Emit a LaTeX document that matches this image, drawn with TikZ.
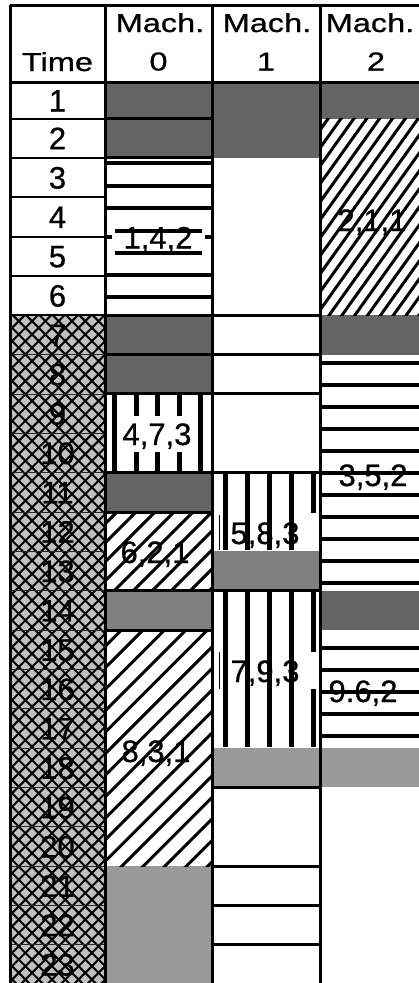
\documentclass[tikz,border=0pt]{standalone}
\usepackage{fontspec}
\usepackage{graphicx}
\setmainfont{Liberation Sans}
\newfontfamily\labfont[FakeBold=0.7]{Liberation Sans}
\definecolor{dgray}{HTML}{646464}
\definecolor{mgray}{HTML}{808080}
\definecolor{lgray}{HTML}{999999}
\definecolor{xgray}{HTML}{C0C0C0}
\newcommand\hsx[1]{\scalebox{1.25}[1]{#1}}
\begin{document}
\begin{tikzpicture}[x=1pt,y=-1pt,
  border/.style={line width=3pt, black},
  thinrule/.style={line width=2pt, black},
  hairrule/.style={line width=0.8pt, black!85},
  stripe/.style={line width=4pt, black},
  vbar/.style={line width=5pt, black},
  hatchline/.style={line width=3pt, black},
  lattice/.style={line width=2pt, black},
  rowlab/.style={font=\labfont\fontsize{31}{31}\selectfont, inner sep=0pt, text height=22pt, text depth=0pt},
  blocklab/.style={rowlab},
  hdr/.style={font=\labfont\fontsize{26}{26}\selectfont, inner sep=0pt, anchor=base},
]
\useasboundingbox (0,0) rectangle (419,983);
\begin{scope}
\clip (0,0) rectangle (419,983);
% grid coordinates
\coordinate (c0) at (10,0);
\coordinate (c1) at (105,0);
\coordinate (c2) at (212,0);
\coordinate (c3) at (320,0);
\coordinate (c4) at (440,0);
\coordinate (r0) at (0,5);
\coordinate (r1) at (0,82);
\foreach \k in {2,...,24} \coordinate (r\k) at (0,{118.5+(\k-2)*39.35});
% solid fills
\fill[dgray] (c1|-r1) rectangle (c2|-r3);
\fill[dgray] (c2|-r1) rectangle (c3|-r3);
\fill[dgray] (c3|-r1) rectangle (c4|-r2);
\fill[dgray] (c1|-r7) rectangle (c2|-r9);
\fill[dgray] (c3|-r7) rectangle (c4|-r8);
\fill[dgray] (c1|-r11) rectangle (c2|-r12);
\fill[dgray] (c3|-r14) rectangle (c4|-r15);
\fill[mgray] (c1|-r14) rectangle (c2|-r15);
\fill[mgray] (c2|-r13) rectangle (c3|-r14);
\fill[lgray] (c1|-r21) rectangle (c2|-r24);
\fill[lgray] (c2|-r18) rectangle (c3|-r19);
\fill[lgray] (c3|-r18) rectangle (c4|-r19);
% time column crosshatch
\begin{scope}
\clip (c0|-r7) rectangle (c1|-r24);
\fill[xgray] (c0|-r7) rectangle (c1|-r24);
\foreach \i in {0,...,64} {
  \draw[lattice] (0,{300+\i*13.3}) -- (120,{300+\i*13.3-120});
  \draw[lattice] (0,{196+\i*13.3}) -- (120,{196+\i*13.3+120});
}
\end{scope}
% horizontal stripes
\foreach \y in {163,186,208,275,297} \draw[stripe] (105,\y) -- (212,\y);
\foreach \y in {230.5,253} \draw[stripe] (115,\y) -- (202,\y);
\draw[stripe] (105,237) -- (112,237);
\draw[stripe] (205,237) -- (212,237);
\foreach \n in {0,...,10} \draw[stripe] (320,{363+22*\n}) -- (430,{363+22*\n});
\foreach \n in {0,...,4} \draw[stripe] (320,{648+22*\n}) -- (430,{648+22*\n});
% vertical stripes
\foreach \n in {0,...,4} \draw[vbar] ({114.5+21.5*\n},393.1) -- ({114.5+21.5*\n},471.7);
\foreach \n in {0,...,3} \draw[vbar] ({225.5+22.1*\n},471.7) -- ({225.5+22.1*\n},550.3);
\draw[vbar] (313.9,471.7) -- (313.9,513);
\foreach \n in {0,...,3} \draw[vbar] ({225.5+22.1*\n},589.6) -- ({225.5+22.1*\n},746.8);
\draw[vbar] (313.9,589.6) -- (313.9,652);
\draw[vbar] (313.9,689) -- (313.9,746.8);
\draw[line width=1pt] (219,515) -- (219,550.3);
\draw[line width=1pt] (219,652) -- (219,689);
% diagonal hatches
\begin{scope}
\clip (c3|-r2) rectangle (c4|-r7);
\foreach \c in {560,578,...,960} \draw[hatchline] (310,{\c-1.4*310}) -- (440,{\c-1.4*440});
\end{scope}
\begin{scope}
\clip (c1|-r12) rectangle (c2|-r14);
\foreach \c in {610,629,...,810} \draw[hatchline] (100,{\c-100}) -- (220,{\c-220});
\end{scope}
\begin{scope}
\clip (c1|-r15) rectangle (c2|-r21);
\foreach \c in {730,751.5,...,1090} \draw[hatchline] (100,{\c-100}) -- (220,{\c-220});
\end{scope}
% rules
\foreach \k in {2,...,7} \draw[thinrule] (c0|-r\k) -- (c1|-r\k);
\foreach \k in {8,...,23} \draw[hairrule] (c0|-r\k) -- (c1|-r\k);
\foreach \k in {2,3,7,8,9,11,12,14,15} \draw[border] (c1|-r\k) -- (c2|-r\k);
\foreach \k in {7,8,9,11,14,19,21,22,23} \draw[border] (c2|-r\k) -- (c3|-r\k);
\draw[border] (c0|-r0) -- (c4|-r0);
\draw[border] (c0|-r1) -- (c4|-r1);
\foreach \c in {c0,c1,c2,c3} \draw[border] (\c|-r0) -- (\c|-r24);
% header
\node[hdr] (hT) at (57.5,71) {\hsx{Time}};
\node[hdr] (hM0) at (160,32) {\hsx{Mach.}};
\node[hdr] (hN0) at (158.5,70.5) {\hsx{0}};
\node[hdr] (hM1) at (267,32) {\hsx{Mach.}};
\node[hdr] (hN1) at (266,70.5) {\hsx{1}};
\node[hdr] (hM2) at (370,32) {\hsx{Mach.}};
\node[hdr] (hN2) at (376,70.5) {\hsx{2}};
% row numbers
\node[rowlab] (t1) at (57.5,100.5) {1};
\foreach \k in {2,...,23} \node[rowlab] (t\k) at (57.5,{138.2+(\k-2)*39.35}) {\k};
% block labels
\node[blocklab] (b142) at (158,237.5) {1,4,2};
\node[blocklab] (b211) at (372,220) {2,1,1};
\node[blocklab, fill=white, minimum height=36pt] (b473) at (157,434) {4,7,3};
\node[blocklab] (b352) at (373,475) {3,5,2};
\node[blocklab] (b621) at (155,552) {6,2,1};
\node[blocklab] (b583) at (265,533) {5,8,3};
\node[blocklab] (b793) at (265,671) {7,9,3};
\node[blocklab] (b962) at (363,691) {9.6,2};
\node[blocklab] (b831) at (156,751) {8,3,1};
\end{scope}
\end{tikzpicture}
\end{document}
